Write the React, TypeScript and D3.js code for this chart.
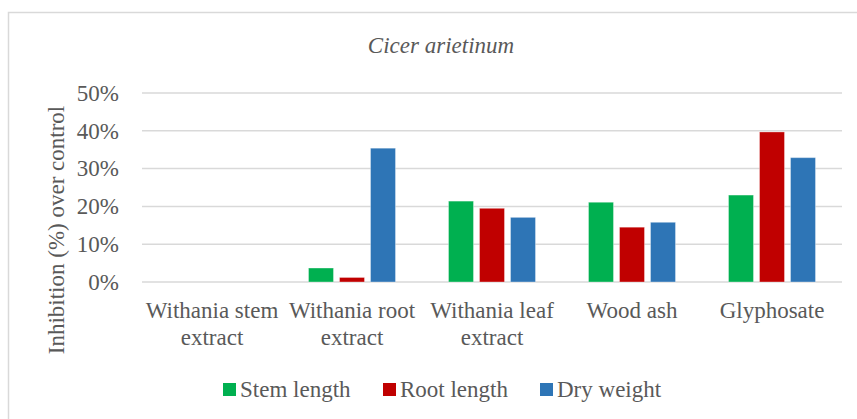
import React from "react";
import * as d3 from "d3";

const categories = [
  ["Withania stem", "extract"],
  ["Withania root", "extract"],
  ["Withania leaf", "extract"],
  ["Wood ash"],
  ["Glyphosate"],
];
const seriesNames = ["Stem length", "Root length", "Dry weight"];
const seriesColors = ["#00B050", "#C00000", "#2E75B6"];
const stemLength = [0, 3.7, 21.4, 21.1, 23.0];
const rootLength = [0, 1.2, 19.5, 14.5, 39.7];
const dryWeight = [0, 35.4, 17.1, 15.8, 32.9];
const yTicks = [0, 10, 20, 30, 40, 50];
const title = "Cicer arietinum";
const yTitle = "Inhibition (%) over control";

const W = 857;
const H = 419;
const FONT = "Liberation Serif, Tinos, DejaVu Serif, Times New Roman, serif";
const TEXT = "#595959";

export default function App() {
  const series = [stemLength, rootLength, dryWeight];
  const catKeys = categories.map((c) => c.join(" "));
  const x0 = d3.scaleBand<string>().domain(catKeys).range([142, 842]).padding(0);
  const x1 = d3
    .scaleBand<string>()
    .domain(seriesNames)
    .range([-43.5, 43.5])
    .paddingInner(0.194)
    .paddingOuter(0);
  const y = d3.scaleLinear().domain([0, 50]).range([282, 93]);

  const legendX = [223, 383, 540];
  const ts = { fontFamily: FONT };

  return (
    <svg
      width={W}
      height={H}
      style={{ position: "absolute", left: 0, top: 0, display: "block", background: "#fff", fontFamily: FONT }}
    >
      <rect x={0} y={0} width={W} height={H} fill="#fff" />
      <rect x={8.5} y={12.5} width={W + 20} height={H + 20} fill="#fff" stroke="#d9d9d9" strokeWidth={1.5} />
      <text x={441} y={53} textAnchor="middle" fontSize={23} fontStyle="italic" fill={TEXT} style={ts}>
        {title}
      </text>
      {yTicks.map((t) => (
        <g key={t}>
          <line x1={142} x2={842} y1={y(t)} y2={y(t)} stroke="#d9d9d9" strokeWidth={1.5} />
          <text x={119} y={y(t)} dy="0.34em" textAnchor="end" fontSize={23} fill={TEXT} style={ts}>
            {t}%
          </text>
        </g>
      ))}
      <text
        transform={`translate(64,230) rotate(-90)`}
        textAnchor="middle"
        fontSize={23}
        fill={TEXT}
        style={ts}
      >
        {yTitle}
      </text>
      {catKeys.map((k, i) => (
        <g key={k} transform={`translate(${x0(k)! + x0.bandwidth() / 2},0)`}>
          {series.map((s, j) =>
            s[i] > 0 ? (
              <rect
                key={j}
                x={x1(seriesNames[j])!}
                width={x1.bandwidth()}
                y={y(s[i])}
                height={y(0) - y(s[i])}
                fill={seriesColors[j]}
                stroke="#ffffff"
                strokeOpacity={0.35}
                strokeWidth={1}
              />
            ) : null
          )}
          {categories[i].map((line, li) => (
            <text key={li} x={0} y={318 + li * 27} textAnchor="middle" fontSize={23} fill={TEXT} style={ts}>
              {line}
            </text>
          ))}
        </g>
      ))}
      {seriesNames.map((n, j) => (
        <g key={n}>
          <rect x={legendX[j]} y={383} width={13} height={13} fill={seriesColors[j]} />
          <text x={legendX[j] + 17} y={397} fontSize={23} fill={TEXT} style={ts}>
            {n}
          </text>
        </g>
      ))}
    </svg>
  );
}
